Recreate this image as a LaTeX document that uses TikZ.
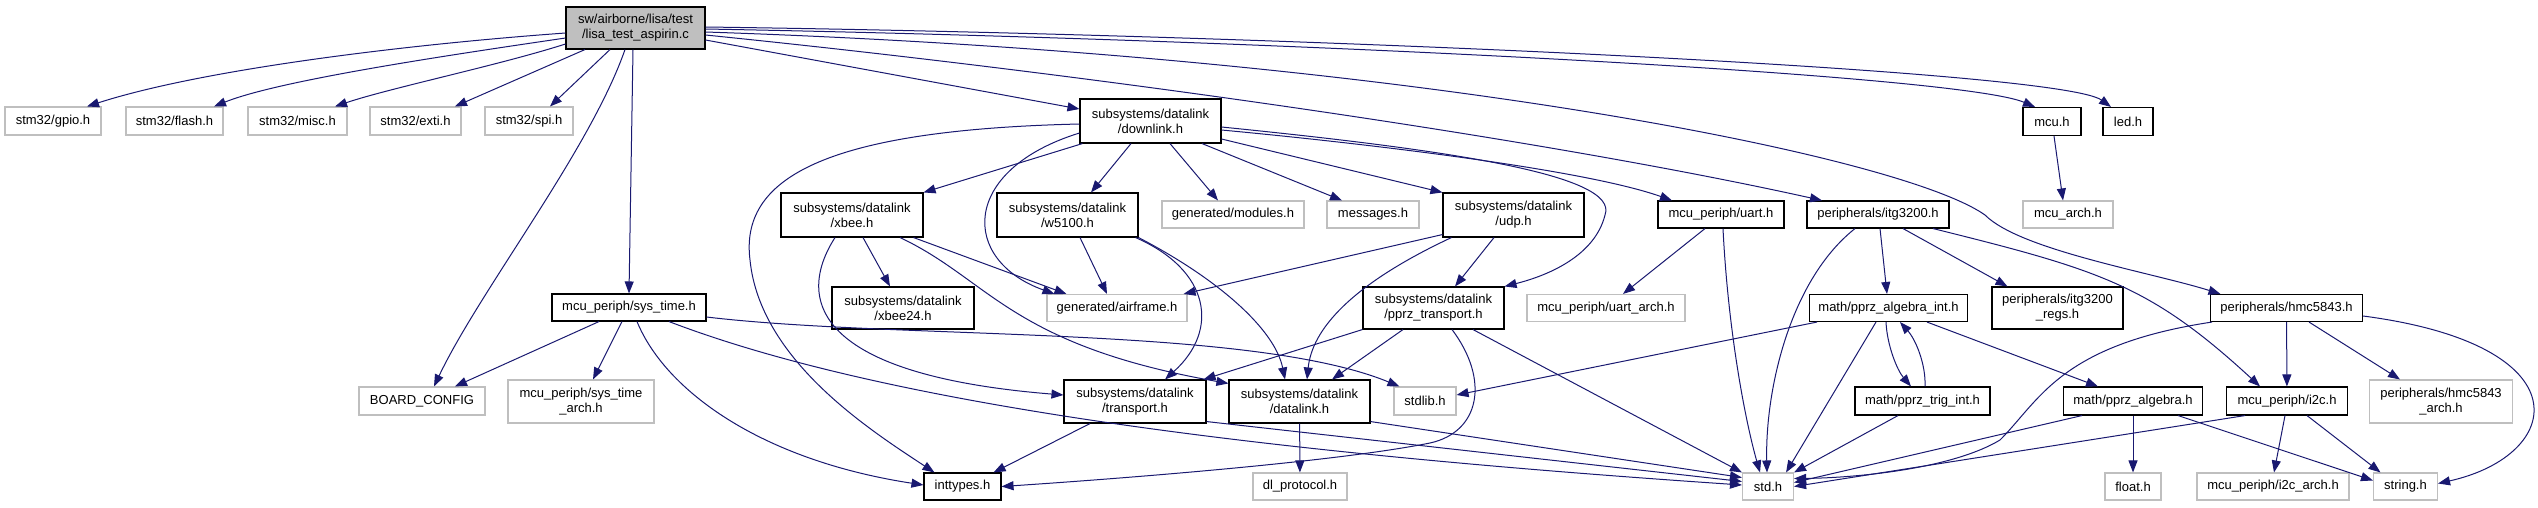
\documentclass[tikz,border=0pt]{standalone}
\usepackage{fontspec}
\setmainfont{Liberation Sans}
\usetikzlibrary{arrows.meta}
\definecolor{edgec}{HTML}{191970}
\definecolor{grayb}{HTML}{BFBFBF}
\begin{document}
\begin{tikzpicture}[x=1pt,y=-1pt,
 every node/.style={font=\fontsize{13}{15}\selectfont, inner sep=0pt, align=center},
 nb/.style={draw=black, line width=1.1pt, fill=white, rectangle},
 ng/.style={draw=grayb, line width=1.1pt, fill=white, rectangle},
 nr/.style={draw=black, line width=1.1pt, fill=grayb, rectangle},
 e/.style={draw=edgec, line width=1pt, -{Triangle[length=12pt,width=9pt]}}
]
\useasboundingbox (0,0) rectangle (2538,507);
% nodes
\node[nr, minimum width=139pt, minimum height=42pt] (root) at (635.5,28) {sw/airborne/lisa/test\\/lisa\_test\_aspirin.c};
\node[ng, minimum width=96pt, minimum height=28pt] (gpio) at (53,121) {stm32/gpio.h};
\node[ng, minimum width=97pt, minimum height=28pt] (flash) at (174.5,121) {stm32/flash.h};
\node[ng, minimum width=99pt, minimum height=28pt] (misc) at (297.5,121) {stm32/misc.h};
\node[ng, minimum width=91pt, minimum height=28pt] (exti) at (415.5,121) {stm32/exti.h};
\node[ng, minimum width=88pt, minimum height=28pt] (spi) at (529,121) {stm32/spi.h};
\node[nb, minimum width=141pt, minimum height=44pt] (downlink) at (1150.5,121) {subsystems/datalink\\/downlink.h};
\node[nb, minimum width=58pt, minimum height=28pt] (mcu) at (2052,121.5) {mcu.h};
\node[nb, minimum width=50pt, minimum height=28pt] (led) at (2128,121.5) {led.h};
\node[nb, minimum width=142pt, minimum height=44pt] (xbee) at (852,215) {subsystems/datalink\\/xbee.h};
\node[nb, minimum width=141pt, minimum height=44pt] (w5100) at (1067.5,215) {subsystems/datalink\\/w5100.h};
\node[ng, minimum width=142pt, minimum height=27pt] (modules) at (1233,214.5) {generated/modules.h};
\node[ng, minimum width=92pt, minimum height=27pt] (messages) at (1373,214.5) {messages.h};
\node[nb, minimum width=141pt, minimum height=44pt] (udp) at (1513.5,215) {subsystems/datalink\\/udp.h};
\node[nb, minimum width=126pt, minimum height=27pt] (uart) at (1721,214.5) {mcu\_periph/uart.h};
\node[nb, minimum width=142pt, minimum height=27pt] (itg) at (1878,214.5) {peripherals/itg3200.h};
\node[ng, minimum width=90pt, minimum height=27pt] (mcuarch) at (2068,214.5) {mcu\_arch.h};
\node[nb, minimum width=154pt, minimum height=27pt] (systime) at (629,307.5) {mcu\_periph/sys\_time.h};
\node[nb, minimum width=142pt, minimum height=42pt] (xbee24) at (903,308) {subsystems/datalink\\/xbee24.h};
\node[ng, minimum width=140pt, minimum height=27pt] (airframe) at (1117,308) {generated/airframe.h};
\node[nb, minimum width=141pt, minimum height=42pt] (pprztr) at (1433.5,308) {subsystems/datalink\\/pprz\_transport.h};
\node[ng, minimum width=158pt, minimum height=27pt] (uartarch) at (1606,308) {mcu\_periph/uart\_arch.h};
\node[nb, minimum width=158pt, minimum height=27pt] (algint) at (1888.5,308) {math/pprz\_algebra\_int.h};
\node[nb, minimum width=131pt, minimum height=42pt] (itgregs) at (2057.5,308) {peripherals/itg3200\\\_regs.h};
\node[nb, minimum width=152pt, minimum height=27pt] (hmc) at (2286.5,308) {peripherals/hmc5843.h};
\node[ng, minimum width=126pt, minimum height=28pt] (board) at (422,401) {BOARD\_CONFIG};
\node[ng, minimum width=146pt, minimum height=43pt] (systimearch) at (581,401.5) {mcu\_periph/sys\_time\\\_arch.h};
\node[nb, minimum width=142pt, minimum height=43pt] (transport) at (1135,401.5) {subsystems/datalink\\/transport.h};
\node[nb, minimum width=141pt, minimum height=43pt] (datalink) at (1299.5,401.5) {subsystems/datalink\\/datalink.h};
\node[ng, minimum width=62pt, minimum height=28pt] (stdlib) at (1425,401) {stdlib.h};
\node[nb, minimum width=135pt, minimum height=28pt] (trig) at (1922.5,401) {math/pprz\_trig\_int.h};
\node[nb, minimum width=139pt, minimum height=28pt] (alg) at (2133,401) {math/pprz\_algebra.h};
\node[nb, minimum width=121pt, minimum height=28pt] (i2c) at (2287,401) {mcu\_periph/i2c.h};
\node[ng, minimum width=143pt, minimum height=43pt] (hmcarch) at (2441,401.5) {peripherals/hmc5843\\\_arch.h};
\node[nb, minimum width=77pt, minimum height=27pt] (inttypes) at (962.5,486.5) {inttypes.h};
\node[ng, minimum width=94pt, minimum height=27pt] (dlproto) at (1300,486.5) {dl\_protocol.h};
\node[ng, minimum width=51pt, minimum height=27pt] (std) at (1768,486.5) {std.h};
\node[ng, minimum width=56pt, minimum height=27pt] (float) at (2133,486.5) {float.h};
\node[ng, minimum width=152pt, minimum height=27pt] (i2carch) at (2273,486.5) {mcu\_periph/i2c\_arch.h};
\node[ng, minimum width=64pt, minimum height=27pt] (string) at (2405.5,486.5) {string.h};
% root edges
\draw[e] ([yshift=-5pt]root.west) .. controls (400,45) and (200,70) .. ([xshift=34pt]gpio.north);
\draw[e] ([yshift=-10pt]root.west) .. controls (450,55) and (280,80) .. ([xshift=39.5pt]flash.north);
\draw[e] ([yshift=-16pt]root.west) .. controls (500,65) and (390,88) .. ([xshift=37.5pt]misc.north);
\draw[e] ([xshift=-50.5pt]root.south) -- ([xshift=39.5pt]exti.north);
\draw[e] ([xshift=-25.5pt]root.south) -- ([xshift=21pt]spi.north);
\draw[e] ([xshift=-10.5pt]root.south) .. controls (590,150) and (480,290) .. ([xshift=12pt]board.north);
\draw[e] ([xshift=-2.5pt]root.south) -- (systime.north);
\draw[e] ([yshift=-12pt]root.east) -- ([yshift=12pt]downlink.west);
\draw[e] ([yshift=-1pt]root.east) .. controls (1300,40) and (1960,75) .. ([xshift=-17pt]mcu.north);
\draw[e] ([yshift=1pt]root.east) .. controls (1300,35) and (2060,70) .. ([xshift=-17pt]led.north);
\draw[e] ([yshift=-4pt]root.east) .. controls (1400,55) and (1900,155) .. (1985,215) .. controls (2020,250) and (2150,272) .. ([xshift=-66pt]hmc.north);
\draw[e] ([yshift=-7pt]root.east) .. controls (1100,75) and (1550,140) .. ([xshift=-56pt]itg.north);
% downlink edges
\draw[e] ([xshift=3pt]downlink.south west) -- (xbee.north east);
\draw[e] ([xshift=-19.5pt]downlink.south) -- ([xshift=23.5pt]w5100.north);
\draw[e] ([xshift=19.5pt]downlink.south) -- ([xshift=-15pt]modules.north);
\draw[e] ([xshift=51.5pt]downlink.south) -- ([xshift=-31pt]messages.north);
\draw[e] ([yshift=-18pt]downlink.east) -- (udp.north west);
\draw[e] ([yshift=-9pt]downlink.east) .. controls (1350,142) and (1580,168) .. ([xshift=-49pt]uart.north);
\draw[e] ([yshift=-6pt]downlink.east) .. controls (1450,150) and (1620,175) .. (1605,215) .. controls (1595,255) and (1550,275) .. (pprztr.north east);
\draw[e] ([yshift=-12pt]downlink.west) .. controls (960,170) and (960,260) .. ([xshift=8pt]airframe.north west);
\draw[e] ([yshift=-3pt]downlink.west) .. controls (820,130) and (740,180) .. (750,260) .. controls (760,360) and (870,430) .. ([xshift=11pt]inttypes.north west);
% xbee edges
\draw[e] ([xshift=11pt]xbee.south) -- ([xshift=-13pt]xbee24.north);
\draw[e] ([xshift=-10pt]xbee.south east) -- ([xshift=20pt]airframe.north west);
\draw[e] ([xshift=48pt]xbee.south) .. controls (990,280) and (1010,345) .. ([yshift=-4pt]datalink.north west);
\draw[e] ([xshift=-17pt]xbee.south) .. controls (795,300) and (815,375) .. ([yshift=6.5pt]transport.west);
% w5100 edges
\draw[e] ([xshift=12.5pt]w5100.south) -- ([xshift=-10pt]airframe.north);
\draw[e] ([xshift=-3pt]w5100.south east) .. controls (1210,270) and (1220,330) .. ([xshift=30pt]transport.north);
\draw[e] (w5100.south east) .. controls (1220,280) and (1275,330) .. ([xshift=-14.5pt]datalink.north);
% udp edges
\draw[e] ([yshift=3pt]udp.south west) -- ([xshift=-4pt]airframe.north east);
\draw[e] ([xshift=9pt]udp.south west) .. controls (1350,285) and (1312,330) .. ([xshift=7.5pt]datalink.north);
\draw[e] ([xshift=-19.5pt]udp.south) -- ([xshift=21.5pt]pprztr.north);
% uart edges
\draw[e] ([xshift=-16pt]uart.south) -- ([xshift=17pt]uartarch.north);
\draw[e] ([xshift=2pt]uart.south) .. controls (1728,330) and (1745,420) .. ([xshift=-8pt]std.north);
% itg3200 edges
\draw[e] ([xshift=2pt]itg.south) -- ([xshift=-1.5pt]algint.north);
\draw[e] ([xshift=-23pt]itg.south) .. controls (1790,280) and (1765,390) .. ([xshift=-1pt]std.north);
\draw[e] ([xshift=25pt]itg.south) -- ([xshift=-50pt]itgregs.north);
\draw[e] ([xshift=55pt]itg.south) .. controls (2100,270) and (2150,285) .. ([xshift=-27pt]i2c.north);
% mcu
\draw[e] ([xshift=2pt]mcu.south) -- ([xshift=-5pt]mcuarch.north);
% sys_time edges
\draw[e] ([xshift=-30pt]systime.south) -- ([xshift=33pt]board.north);
\draw[e] ([xshift=-7pt]systime.south) -- ([xshift=12pt]systimearch.north);
\draw[e] ([yshift=-9.5pt]systime.east) .. controls (900,340) and (1250,325) .. ([xshift=6pt]stdlib.north west);
\draw[e] ([xshift=40pt]systime.south) .. controls (900,410) and (1300,455) .. ([yshift=1.5pt]std.west);
\draw[e] ([xshift=8pt]systime.south) .. controls (665,390) and (760,460) .. ([yshift=1.5pt]inttypes.west);
% transport / datalink
\draw[e] ([xshift=-45pt]transport.south) -- ([xshift=-8pt]inttypes.north east);
\draw[e] ([yshift=2pt]transport.south east) -- ([yshift=5pt]std.west);
\draw[e] (datalink) -- (dlproto);
\draw[e] ([yshift=2pt]datalink.south east) -- ([yshift=9pt]std.west);
% pprz_transport
\draw[e] (pprztr.south west) -- ([xshift=-3pt]transport.north east);
\draw[e] ([xshift=-30.5pt]pprztr.south) -- ([xshift=32.5pt]datalink.north);
\draw[e] ([xshift=18.5pt]pprztr.south) .. controls (1490,380) and (1480,432) .. (1430,443) .. controls (1330,463) and (1100,480) .. (inttypes.east);
\draw[e] ([xshift=39.5pt]pprztr.south) -- (std.north west);
% pprz_algebra_int
\draw[e] ([xshift=8pt]algint.south west) -- ([yshift=6pt]stdlib.east);
\draw[e] ([xshift=-12.5pt]algint.south) -- ([xshift=-8pt]std.north east);
\draw[e] ([xshift=-2.5pt]algint.south) .. controls (1887,345) and (1897,370) .. ([xshift=-11.5pt]trig.north);
\draw[e] ([xshift=2.5pt]trig.north) .. controls (1926,365) and (1916,340) .. ([xshift=11.5pt]algint.south);
\draw[e] ([xshift=38.5pt]algint.south) -- ([xshift=-35pt]alg.north);
\draw[e] ([xshift=-24.5pt]trig.south) -- (std.north east);
% pprz_algebra
\draw[e] ([xshift=-51pt]alg.south) -- ([yshift=4pt]std.east);
\draw[e] (alg) -- (float);
\draw[e] ([xshift=45pt]alg.south) -- ([yshift=6pt]string.west);
% i2c
\draw[e] ([xshift=-42pt]i2c.south) -- (std.east);
\draw[e] ([xshift=-2pt]i2c.south) -- ([xshift=1pt]i2carch.north);
\draw[e] ([xshift=20pt]i2c.south) -- ([xshift=-25pt]string.north);
% hmc5843
\draw[e] (hmc) -- (i2c);
\draw[e] ([xshift=22.5pt]hmc.south) -- ([xshift=-41pt]hmcarch.north);
\draw[e] ([yshift=-8pt]hmc.east) .. controls (2585,345) and (2565,455) .. ([yshift=3pt]string.east);
\draw[e] ([xshift=2pt]hmc.south west) .. controls (2060,345) and (2040,400) .. (2000,440) .. controls (1950,470) and (1850,478) .. ([yshift=8pt]std.east);
\end{tikzpicture}
\end{document}
